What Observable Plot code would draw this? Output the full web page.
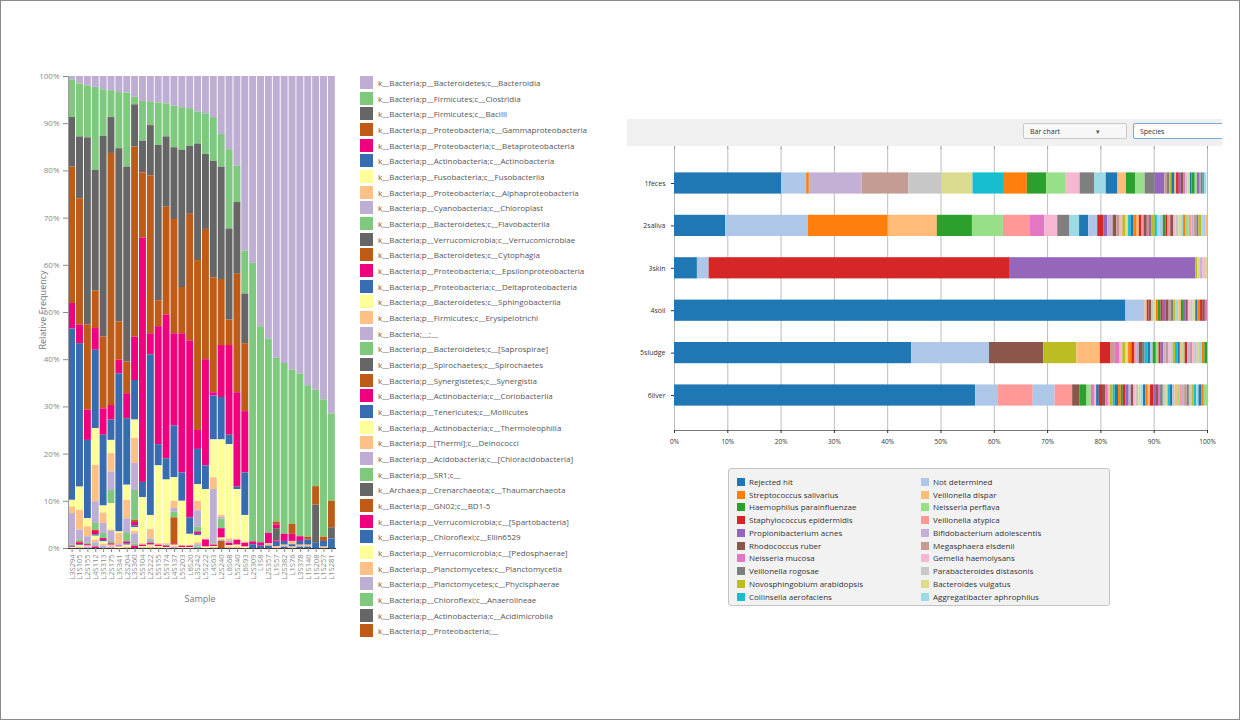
<!DOCTYPE html>
<html><head><meta charset="utf-8">
<script src="https://cdn.jsdelivr.net/npm/d3@7"></script>
<script src="https://cdn.jsdelivr.net/npm/@observablehq/plot@0.6"></script>
<style>
body{margin:0;background:#fff;font-family:"Open Sans",sans-serif;}
#page{position:relative;width:1240px;height:720px;overflow:hidden;background:#fff;}
#border{position:absolute;left:0;top:0;width:1238px;height:718px;border:1px solid #8a8a8a;}
.abs{position:absolute;}
.lrow{position:absolute;left:0;height:14px;font-size:8px;color:#555;white-space:nowrap;}
.lrow span.sw{position:absolute;left:0;top:0;width:13px;height:13px;}
.lrow span.tx{position:absolute;left:18px;top:1px;line-height:12px;}
#toolbar{position:absolute;left:627px;top:119px;width:595px;height:27px;background:#f0f0f0;overflow:hidden;}
.sel{position:absolute;top:4px;height:16px;background:#f7f7f7;border:1px solid #c9c9c9;border-radius:2px;font-size:7px;color:#333;line-height:16px;padding-left:6px;box-sizing:border-box;}
#rlegend{position:absolute;left:728px;top:468px;width:382px;height:138px;background:#f2f2f2;border:1px solid #c4c4c4;border-radius:3px;box-sizing:border-box;}
.ritem{position:absolute;height:10px;font-size:8px;color:#333;white-space:nowrap;}
.ritem span.sw{position:absolute;left:0;top:1px;width:8px;height:8px;}
.ritem span.tx{position:absolute;left:12px;top:0;line-height:10px;}
</style></head>
<body><div id="page"><div id="border"></div>
<div id="toolbar">
  <div class="sel" style="left:396px;width:104px;">Bar chart<span style="position:absolute;left:72px;top:0;font-size:7px;color:#555;">▾</span></div>
  <div class="sel" style="left:506px;width:110px;border-color:#6eaedb;background:#fff;">Species</div>
</div>
<div id="rlegend"></div>
</div>
<script>
// ---------- LEFT CHART DATA ----------
const samples = ["L3S294","L1S105","L2S155","L4S112","L3S313","L2S175","L3S341","L2S204","L3S360","L5S104","L2S222","L5S155","L5S174","L4S137","L5S203","L6S20","L3S242","L5S222","L4S63","L2S240","L6S68","L5S240","L6S93","L2S309","L1S8","L2S357","L1S57","L2S382","L1S76","L3S378","L1S140","L1S208","L1S257","L1S281"];
const classNames = [
"k__Bacteria;p__Bacteroidetes;c__Bacteroidia",
"k__Bacteria;p__Firmicutes;c__Clostridia",
"k__Bacteria;p__Firmicutes;c__Bacilli",
"k__Bacteria;p__Proteobacteria;c__Gammaproteobacteria",
"k__Bacteria;p__Proteobacteria;c__Betaproteobacteria",
"k__Bacteria;p__Actinobacteria;c__Actinobacteria",
"k__Bacteria;p__Fusobacteria;c__Fusobacteriia",
"k__Bacteria;p__Proteobacteria;c__Alphaproteobacteria",
"k__Bacteria;p__Cyanobacteria;c__Chloroplast",
"k__Bacteria;p__Bacteroidetes;c__Flavobacteriia",
"k__Bacteria;p__Verrucomicrobia;c__Verrucomicrobiae",
"k__Bacteria;p__Bacteroidetes;c__Cytophagia",
"k__Bacteria;p__Proteobacteria;c__Epsilonproteobacteria",
"k__Bacteria;p__Proteobacteria;c__Deltaproteobacteria",
"k__Bacteria;p__Bacteroidetes;c__Sphingobacteriia",
"k__Bacteria;p__Firmicutes;c__Erysipelotrichi",
"k__Bacteria;__;__",
"k__Bacteria;p__Bacteroidetes;c__[Saprospirae]",
"k__Bacteria;p__Spirochaetes;c__Spirochaetes",
"k__Bacteria;p__Synergistetes;c__Synergistia",
"k__Bacteria;p__Actinobacteria;c__Coriobacteriia",
"k__Bacteria;p__Tenericutes;c__Mollicutes",
"k__Bacteria;p__Actinobacteria;c__Thermoleophilia",
"k__Bacteria;p__[Thermi];c__Deinococci",
"k__Bacteria;p__Acidobacteria;c__[Chloracidobacteria]",
"k__Bacteria;p__SR1;c__",
"k__Archaea;p__Crenarchaeota;c__Thaumarchaeota",
"k__Bacteria;p__GN02;c__BD1-5",
"k__Bacteria;p__Verrucomicrobia;c__[Spartobacteria]",
"k__Bacteria;p__Chloroflexi;c__Ellin6529",
"k__Bacteria;p__Verrucomicrobia;c__[Pedosphaerae]",
"k__Bacteria;p__Planctomycetes;c__Planctomycetia",
"k__Bacteria;p__Planctomycetes;c__Phycisphaerae",
"k__Bacteria;p__Chloroflexi;c__Anaerolineae",
"k__Bacteria;p__Actinobacteria;c__Acidimicrobiia",
"k__Bacteria;p__Proteobacteria;__"];

const bacteroidia = [0.7,1.6,2,2.3,2.8,3,3.4,3.5,4.4,5.3,5.5,5.6,5.8,6.3,6.6,6.8,7.5,7.9,8.7,12.3,15.5,19,37,39.6,53,55.6,59.7,60.8,62.2,63,65.5,66.5,68.5,71.5];
const clostridia  = [8,11.2,11,17.6,9.9,5.7,11.9,15.7,1.6,8.4,4.9,9,7,8.8,9,8,6.8,8.6,9.3,6.9,16.8,7.7,9.1,59,45.8,41.2,34.7,36.2,32.7,34.5,32.1,20.4,29.1,18.5];
const bacilli     = [10.5,13.1,39.6,25.5,42.5,7.6,36.7,41.3,8.9,6.7,10.7,32.9,14.9,15.2,29.1,14.4,24.7,15.9,24.7,23.8,19.3,15.2,10.5,0,0,0,0,0,0,0,0,0,0,0];
const gamma       = [28.9,26.8,18.1,8,15.2,53.4,8.1,6.7,40.3,13.8,33.4,5.5,22.8,24.2,9.8,26.8,36,27.6,24.3,14,5.4,25.1,14.4,0,0,0,0.6,0,2.1,0,0.6,3.9,0.9,5.6];
const beta        = [5.4,3.9,6.4,4.6,5.6,3.1,2.9,5.3,9.2,51.8,4.5,25,30.5,19.5,29.5,37.5,4,22.5,0.7,11,19,20,13,0.6,0.7,2.2,0.8,1.5,1.5,1,0,0,0,0];
const actino      = [36.3,30.4,16.6,16.6,15,4.3,33.5,14.1,8.4,3.2,34,4.5,4.5,11,6,3.5,7.5,5,9.3,9,2,0.5,9,0,0,0,0,0,0,0,0,0,0,0];
const fuso        = [1.4,4.9,1.7,7.8,1.5,2.8,0.3,3.2,3.9,9.8,3,16.5,13.5,5,9.5,2.5,3.5,10.5,8,16,20,10.5,5.6,0,0,0,0,0,0,0,0,0,0,0];
const alpha       = [1.4,4.2,2.1,7.7,2.2,3.9,2.4,3.9,5.3,0.3,2,0.3,0.3,1.5,0,0,2,0.2,2.5,0.4,0.5,0.3,0.3,0,0,0.5,0,0,0.7,0,0,0,0,0];
const chloroplast = [6.7,2.1,1.4,4.6,2.1,3.9,0.3,3.1,5.7,0,0.5,0,0,0.8,0,0,3.5,0,11.5,0.4,0.4,0,0,0,0,0,0,0,0,0,0,0,0,0];
const flavo       = [0.2,0.4,0.3,1.4,1.1,2.8,0,1.8,6.3,0,0.4,0,0.2,1.2,0,0,1,0,0.3,2,0,0,0,0,0,0,0,0,0,0,0,0,0,0];
const verruco     = [0,0,0,0,0,0,0,0,0,0,0,0,0,0,0,0,0,0,0,0,0,0,0,0,0,0,2.6,0,0,0,0,8.1,0,2.4];
const cytophagia  = [0,0.2,0,0.3,0,0,0,0,0.5,0,0,0,0,5.5,0,0,0,0,0,0,0,0,0,0,0,0,0,0,0,0,0,0,0,0];
const epsilon     = [0.2,0.4,0.3,0.7,0.4,0,0.2,0.4,0.7,0.3,0.4,0.3,0.3,0.3,0.3,0.3,0.5,1.5,0.3,2,0.5,1,0.8,0,0,0,0.3,0,0,0,0,0,0,0];
const delta       = [0.1,0.2,0,0.3,0.3,0,0,0.3,0.4,0,0,0,0,0,0,0,0.3,0,0,0,0,0,0,0.8,0.5,0.5,0.9,0.8,0.5,0.8,1.1,1.1,1.2,2];
const sphingo     = [0.1,0.3,0.2,0.8,0.5,5.6,0.3,0.4,0.8,0.2,0.4,0.2,0.2,0.3,0.2,0.2,1.5,0.3,0.2,0.3,0.3,0.4,0.3,0,0,0,0,0,0,0,0,0,0,0];
const erysipelo   = [0.1,0.3,0,0.6,0.4,0.3,0,0.3,0.5,0.2,0.3,0.2,0,0.2,0,0,0.4,0,0.2,0.2,0.3,0.3,0,0,0,0,0.4,0.4,0.3,0.4,0.4,0,0.3,0];
const unassigned  = [0,0,0.3,0.6,0.5,2.1,0,0,2.1,0,0,0,0,0.2,0,0,0.5,0,0,0.2,0,0,0,0,0,0,0,0,0,0,0,0,0,0];
const saprospirae = [0,0,0,0.3,0,0.5,0,0,0.5,0,0,0,0,0,0,0,0.3,0,0,0,0,0,0,0,0,0,0,0,0,0,0,0,0,0];
const synergistia = [0,0,0,0,0,0,0,0,0,0,0,0,0,0,0,0,0,0,0,1.5,0,0,0,0,0,0,0,0,0,0,0,0,0,0];
const corio       = [0,0,0,0.3,0,0.3,0,0,0.5,0,0,0,0,0,0,0,0,0,0,0,0,0,0,0,0,0,0,0,0,0,0,0,0,0];
const mollicutes  = [0,0,0,0,0,0,0,0,0,0,0,0,0,0,0,0,0,0,0,0,0,0,0,0,0,0,0,0.3,0,0.3,0.3,0,0,0];
const deinococci  = [0,0,0,0,0,0.4,0,0,0,0,0,0,0,0,0,0,0,0,0,0,0,0,0,0,0,0,0,0,0,0,0,0,0,0];
const chloracido  = [0,0,0,0,0,0.3,0,0,0,0,0,0,0,0,0,0,0,0,0,0,0,0,0,0,0,0,0,0,0,0,0,0,0,0];
const absent      = [0,0,0,0,0,0,0,0,0,0,0,0,0,0,0,0,0,0,0,0,0,0,0,0,0,0,0,0,0,0,0,0,0,0];
const yTicks = [0,10,20,30,40,50,60,70,80,90,100];

// ---------- RIGHT CHART DATA ----------
const samplesR = ["1feces","2saliva","3skin","4soil","5sludge","6liver"];
const speciesNames = ["Rejected hit","Not determined","Streptococcus salivarius","Veillonella dispar","Haemophilus parainfluenzae","Neisseria perflava","Staphylococcus epidermidis","Veillonella atypica","Propionibacterium acnes","Bifidobacterium adolescentis","Rhodococcus ruber","Megasphaera elsdenii","Neisseria mucosa","Gemella haemolysans","Veillonella rogosae","Parabacteroides distasonis","Novosphingobium arabidopsis","Bacteroides vulgatus","Collinsella aerofaciens","Aggregatibacter aphrophilus"];
// [species index, percent]
const feces = [[0,20.1],[1,4.7],[2,0.5],[9,9.9],[11,8.8],[15,6.2],[17,5.8],[18,5.9],[22,4.3],[24,3.6],[25,3.7],[33,2.6],[34,2.7],[39,2.2],[40,2.2],[43,1.6],[44,1.7],[45,1.8],[54,1.9],[68,1.8],
 [71,0.5],[74,0.4],[76,0.4],[80,0.6],[83,0.3],[86,0.5],[88,0.4],[90,0.5],[92,0.3],[95,0.4],[97,0.5],[100,0.3],[104,0.6],[105,0.4],[108,0.4],[111,0.3],[114,0.4],[118,0.3],[119,0.4]];
const saliva = [[0,9.6],[1,15.5],[2,15.0],[3,9.2],[4,6.6],[5,5.8],[7,5.1],[12,2.7],[13,2.4],[14,2.3],[19,1.8],[20,1.7],[21,1.7],[26,1.2],[28,0.7],[29,1.0],[30,0.7],[31,0.6],[33,0.5],[36,0.6],[37,0.5],[38,0.5],
 [40,0.5],[42,0.6],[43,0.4],[46,0.5],[47,0.4],[50,0.6],[52,0.4],[54,0.5],[56,0.6],[58,0.4],[59,0.5],[61,0.6],[64,0.5],[66,0.4],[67,0.5],[70,0.6],[73,0.4],[75,0.5],[77,0.5],[79,0.4],[82,0.5],[85,0.6],[87,0.5],[89,0.4],[91,0.5],[94,0.4],[96,0.5],[99,0.4],[101,0.4],[103,0.3]];
const skin = [[0,4.3],[1,2.2],[6,56.5],[8,34.8],[16,0.4],[17,0.5],[29,0.4],[33,0.5],[37,0.4]];
const soil = [[0,84.7],[1,3.6],[3,0.4],[6,0.3],[10,0.5],[15,0.4],[17,0.5],[22,0.4],[24,0.5],[26,0.4],[28,0.5],[30,0.6],[31,0.4],[34,0.5],[36,0.4],[39,0.5],[43,0.5],[44,0.4],[48,0.5],[50,0.4],[53,0.5],[55,0.4],[57,0.5],[60,0.4],[62,0.5],[66,0.4],[70,0.5],[72,0.4]];
const sludge = [[0,44.5],[1,14.6],[10,10.2],[16,6.2],[23,4.4],[26,2.0],[31,0.8],[32,0.9],[33,0.5],[36,0.6],[37,0.5],[42,0.6],[46,0.5],[47,0.4],[49,0.5],[50,0.6],[54,0.5],[58,0.6],[60,0.4],[61,0.5],[64,0.6],[65,0.5],[66,0.4],[68,0.5],[69,0.4],[71,0.5],[73,0.4],[75,0.5],[76,0.4],[78,0.5],[80,0.4],[83,0.5],[85,0.4],[86,0.5],[89,0.4],[91,0.5],[93,0.4],[95,0.5],[97,0.4],[99,0.5],[102,0.5],[104,0.5]];
const liver = [[0,56.5],[1,4.3],[7,6.5],[21,4.1],[27,3.3],[30,1.4],[44,1.3],[45,0.8],[52,0.6],
 [53,0.4],[60,0.5],[66,0.6],[70,0.6],[72,0.5],[73,0.4],[76,0.5],[78,0.4],[80,0.6],[82,0.5],[84,0.4],[86,0.5],[88,0.6],[89,0.4],[90,0.5],[93,0.4],[95,0.5],[97,0.4],[99,0.5],[100,0.4],[102,0.5],[103,0.4],[106,0.6],[108,0.4],[110,0.5],[112,0.4],[114,0.5],[115,0.4],[117,0.5],[118,0.4],[120,0.5],[121,0.4],[123,0.5],[125,0.4],[127,0.5],[129,0.4],[131,0.5],[134,0.4],[135,0.5],[136,0.4],[138,0.5],[139,0.4],[140,0.5],[142,0.5],[145,0.6]];
const xTicksR = [0,10,20,30,40,50,60,70,80,90,100];

// ---------- PALETTES ----------
const accentCycle = ["#beaed4","#7fc97f","#666666","#bf5b17","#f0027f","#386cb0","#ffff99","#fdc086"];
const cat20 = ["#1f77b4","#aec7e8","#ff7f0e","#ffbb78","#2ca02c","#98df8a","#d62728","#ff9896","#9467bd","#c5b0d5","#8c564b","#c49c94","#e377c2","#f7b6d2","#7f7f7f","#c7c7c7","#bcbd22","#dbdb8d","#17becf","#9edae5"];

// ---------- BUILD LEFT ----------
const classSeries = [bacteroidia,clostridia,bacilli,gamma,beta,actino,fuso,alpha,chloroplast,flavo,verruco,cytophagia,epsilon,delta,sphingo,erysipelo,unassigned,saprospirae,absent,synergistia,corio,mollicutes,absent,deinococci,chloracido,absent,absent,absent,absent,absent,absent,absent,absent,absent,absent,absent];
const classColors = classNames.map((_, i) => accentCycle[i % accentCycle.length]);
const leftRows = [];
classNames.forEach((c, k) => classSeries[k].forEach((v, i) => leftRows.push({sample: samples[i], cls: c, value: v})));
const stackOrder = classNames.slice().reverse();

const page = document.getElementById("page");

const left = Plot.plot({
  width: 345, height: 620,
  marginLeft: 68, marginRight: 10, marginTop: 76, marginBottom: 72,
  style: {fontFamily: "Open Sans", fontSize: "8px", background: "transparent", overflow: "visible"},
  x: {domain: samples, paddingInner: 0.12, paddingOuter: 0.02, round: false, label: null},
  y: {domain: [0, 100], label: null},
  color: {domain: classNames, range: classColors},
  marks: [
    Plot.barY(leftRows, {x: "sample", y: "value", fill: "cls", order: stackOrder}),
    Plot.frame({anchor: "left", stroke: "#9a9a9a"}),
    Plot.frame({anchor: "bottom", stroke: "#333"}),
    Plot.axisY({ticks: yTicks, tickFormat: d => d + "%", tickSize: 5, fontSize: 8, color: "#8a8a8a", label: null}),
    Plot.axisX({tickRotate: -90, tickSize: 4, tickPadding: 2, fontSize: 7.5, color: "#8a8a8a", label: null})
  ]
});
left.style.position = "absolute"; left.style.left = "0px"; left.style.top = "0px";
page.appendChild(left);

const yl = document.createElement("div");
yl.className = "abs";
yl.textContent = "Relative Frequency";
Object.assign(yl.style, {left: "42px", top: "310px", fontSize: "9px", color: "#777", transform: "translate(-50%,-50%) rotate(-90deg)", whiteSpace: "nowrap"});
page.appendChild(yl);
const xl = document.createElement("div");
xl.className = "abs";
xl.textContent = "Sample";
Object.assign(xl.style, {left: "200px", top: "598px", fontSize: "9px", color: "#777", transform: "translate(-50%,-50%)"});
page.appendChild(xl);

// left legend
const ll = document.createElement("div");
ll.className = "abs"; ll.style.left = "360px"; ll.style.top = "76px";
classNames.forEach((c, i) => {
  const r = document.createElement("div");
  r.className = "lrow"; r.style.top = (i * 15.67) + "px";
  r.innerHTML = `<span class="sw" style="background:${classColors[i]}"></span><span class="tx"></span>`;
  r.querySelector(".tx").textContent = c;
  ll.appendChild(r);
});
page.appendChild(ll);

// ---------- BUILD RIGHT ----------
const rowSegments = [feces, saliva, skin, soil, sludge, liver];
const rightRows = [];
samplesR.forEach((s, r) => rowSegments[r].forEach(([idx, v]) => rightRows.push({sample: s, idx, value: v, color: cat20[idx % 20]})));

const right = Plot.plot({
  width: 600, height: 312,
  marginLeft: 54, marginRight: 13, marginTop: 10, marginBottom: 20,
  style: {fontFamily: "Open Sans", fontSize: "7px", background: "transparent", overflow: "visible"},
  x: {domain: [0, 100], label: null},
  y: {domain: samplesR, paddingInner: 0.5, paddingOuter: 0.575, round: false, label: null},
  color: {type: "identity"},
  marks: [
    Plot.gridX({ticks: xTicksR, stroke: "#bdbdbd", strokeOpacity: 1}),
    Plot.barX(rightRows, {y: "sample", x: "value", fill: "color", z: "idx", order: "z"}),
    Plot.frame({anchor: "bottom", stroke: "#777"}),
    Plot.axisX({ticks: xTicksR, tickFormat: d => d + "%", tickSize: 3, fontSize: 6.5, color: "#333", label: null}),
    Plot.axisX({anchor: "top", ticks: xTicksR, tickFormat: () => "", tickSize: 3, color: "#999", label: null}),
    Plot.axisY({tickSize: 3, fontSize: 7, color: "#333", label: null})
  ]
});
right.style.position = "absolute"; right.style.left = "620px"; right.style.top = "138px";
page.appendChild(right);

// right legend
const rl = document.getElementById("rlegend");
speciesNames.forEach((n, i) => {
  const col = i % 2, row = Math.floor(i / 2);
  const it = document.createElement("div");
  it.className = "ritem";
  it.style.left = (col ? 192 : 8) + "px";
  it.style.top = (8 + row * 12.73) + "px";
  it.innerHTML = `<span class="sw" style="background:${cat20[i]}"></span><span class="tx"></span>`;
  it.querySelector(".tx").textContent = n;
  rl.appendChild(it);
});
</script>
</body></html>
